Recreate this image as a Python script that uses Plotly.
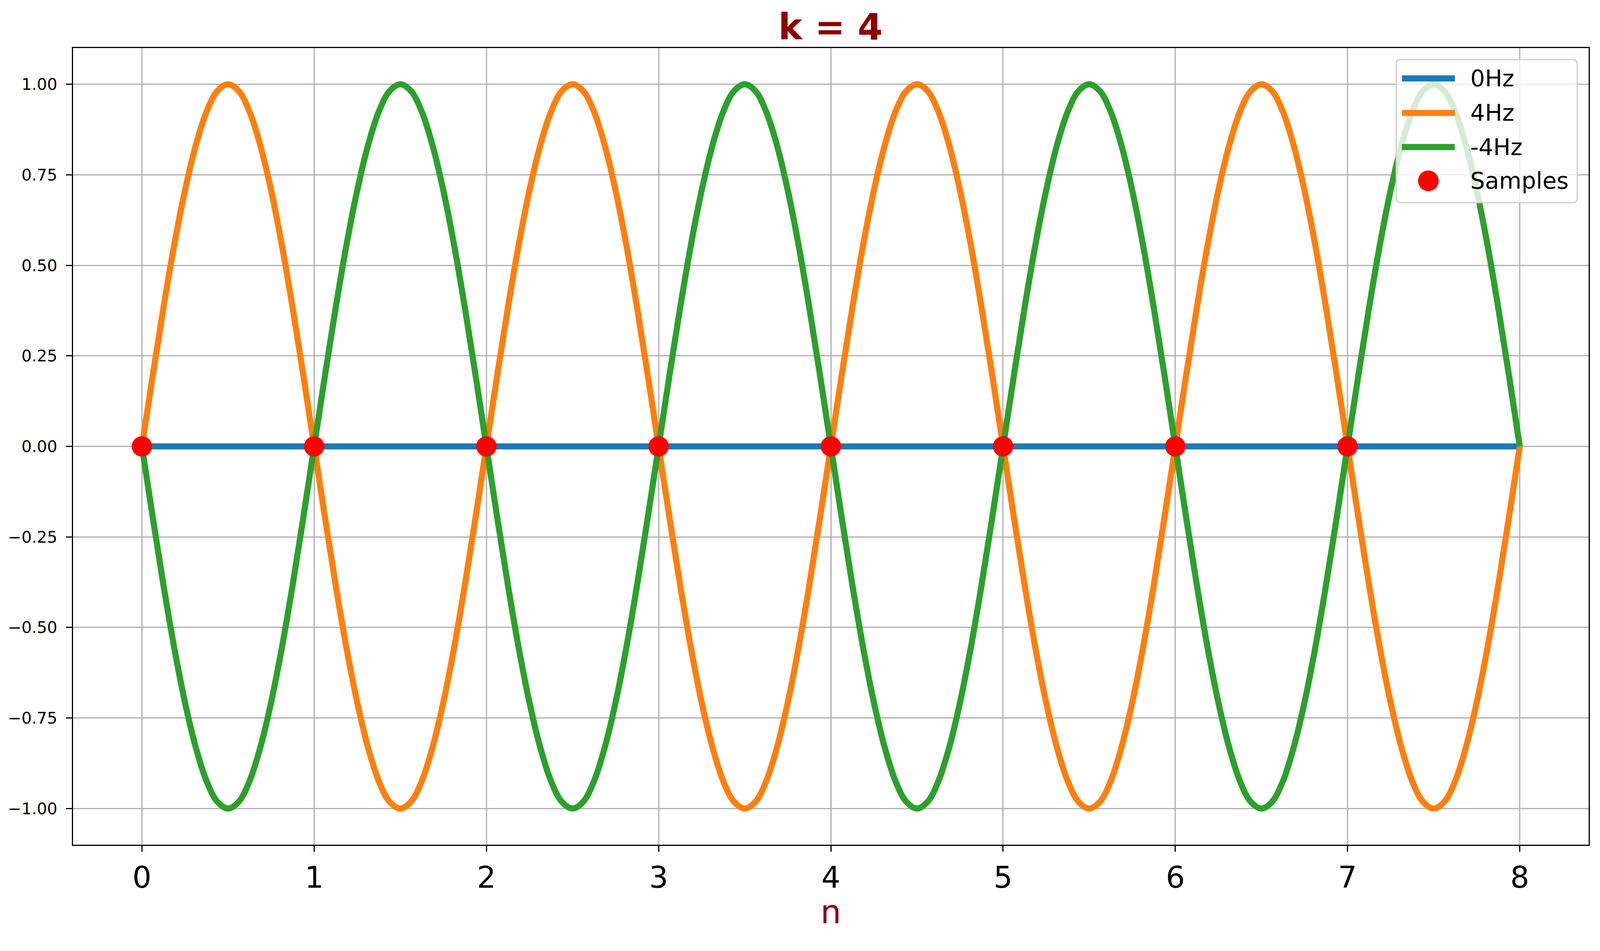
import plotly.graph_objects as go

# sampled points (n = 0..7)
sample_n = [0, 1, 2, 3, 4, 5, 6, 7]
sample_val = [0, 0, 0, 0, 0, 0, 0, 0]

curve_n = [i / 16 for i in range(129)]
zero_hz = [0.0] * 129
period_pos = [0, .195, .383, .556, .707, .831, .924, .981, 1, .981, .924, .831, .707, .556, .383, .195,
              0, -.195, -.383, -.556, -.707, -.831, -.924, -.981, -1, -.981, -.924, -.831, -.707, -.556, -.383, -.195]
period_neg = [0, -.195, -.383, -.556, -.707, -.831, -.924, -.981, -1, -.981, -.924, -.831, -.707, -.556, -.383, -.195,
              0, .195, .383, .556, .707, .831, .924, .981, 1, .981, .924, .831, .707, .556, .383, .195]
pos_4hz = period_pos * 4 + [0]
neg_4hz = period_neg * 4 + [0]

y_ticks = [-1.0, -0.75, -0.5, -0.25, 0.0, 0.25, 0.5, 0.75, 1.0]
y_labels = ["\u22121.00", "\u22120.75", "\u22120.50", "\u22120.25", "0.00", "0.25", "0.50", "0.75", "1.00"]
x_ticks = [0, 1, 2, 3, 4, 5, 6, 7, 8]

names = ["0Hz", "4Hz", "-4Hz", "Samples"]
colors = ["#1f77b4", "#ff7f0e", "#2ca02c", "red"]

font = "DejaVu Sans"

# the page seems to be rendered ~4096px wide and scaled up to 4169,
# so lay everything out in reference pixels and convert
S = 4096 / 4169


def fp(p):
    # reference pixel -> figure pixel (body margin is 8px)
    return p * S - 8


def sz(v):
    return v * S


W, H = 4080, 2375
L = fp(187)
R = W - fp(4139)
T = fp(125)
B = H - fp(2201)
PW, PH = W - L - R, H - T - B


def px(p):
    return (fp(p) - L) / PW


def py(p):
    return (H - B - fp(p)) / PH


lw = sz(16)

fig = go.Figure()
fig.add_trace(go.Scatter(x=curve_n, y=zero_hz, mode="lines", name=names[0],
                         line=dict(color=colors[0], width=lw)))
fig.add_trace(go.Scatter(x=curve_n, y=pos_4hz, mode="lines", name=names[1],
                         line=dict(color=colors[1], width=lw, shape="spline")))
fig.add_trace(go.Scatter(x=curve_n, y=neg_4hz, mode="lines", name=names[2],
                         line=dict(color=colors[2], width=lw, shape="spline")))
fig.add_trace(go.Scatter(x=sample_n, y=sample_val, mode="markers", name=names[3],
                         marker=dict(color=colors[3], size=sz(53))))

# legend drawn by hand, plotly caps legend symbol sizes
bx0, bx1, by0, by1, rad = 3637, 4109, 155, 528, 12
x0, x1 = px(bx0), px(bx1)
y0, y1 = py(by1), py(by0)
rx, ry = sz(rad) / PW, sz(rad) / PH
box = (f"M{x0 + rx},{y0} L{x1 - rx},{y0} Q{x1},{y0} {x1},{y0 + ry} L{x1},{y1 - ry} "
       f"Q{x1},{y1} {x1 - rx},{y1} L{x0 + rx},{y1} Q{x0},{y1} {x0},{y1 - ry} "
       f"L{x0},{y0 + ry} Q{x0},{y0} {x0 + rx},{y0} Z")
shapes = [dict(type="path", xref="paper", yref="paper", path=box,
               fillcolor="rgba(255,255,255,0.8)", line=dict(color="#cccccc", width=sz(3)))]
rows = [204, 294, 383, 471]
annotations = []
for i, (nm, c, row) in enumerate(zip(names, colors, rows)):
    if i < 3:
        shapes.append(dict(type="line", xref="paper", yref="paper",
                           x0=px(3652), x1=px(3790), y0=py(row), y1=py(row),
                           line=dict(color=c, width=lw)))
    else:
        shapes.append(dict(type="circle", xref="paper", yref="paper",
                           x0=px(3721 - 27), x1=px(3721 + 27),
                           y0=py(row + 27), y1=py(row - 27),
                           fillcolor=c, line=dict(width=0)))
    annotations.append(dict(text=nm, xref="paper", yref="paper", x=px(3828), y=py(row),
                            xanchor="left", yanchor="middle", showarrow=False,
                            font=dict(size=sz(60), color="black")))

fig.update_layout(
    width=W, height=H,
    margin=dict(l=L, r=R, t=T, b=B),
    paper_bgcolor="white", plot_bgcolor="white",
    font=dict(family=font, color="black"),
    showlegend=False,
    title=dict(text="<b>k = 4</b>", x=fp(2164) / W, xanchor="center",
               yref="container", y=1 - fp(70) / H, yanchor="middle",
               font=dict(size=sz(94), color="#8b0000")),
    shapes=shapes, annotations=annotations,
)
fig.update_xaxes(range=[-0.4, 8.4], tickvals=x_ticks, tickfont=dict(size=sz(78)),
                 showgrid=True, gridcolor="#b0b0b0", gridwidth=sz(3), zeroline=False,
                 showline=True, linecolor="black", linewidth=sz(3.5), mirror=True,
                 ticks="outside", ticklen=sz(15), tickwidth=sz(3.5), tickcolor="black",
                 title=dict(text="n", font=dict(size=sz(85), color="#8b0000"), standoff=sz(10)))
fig.update_yaxes(range=[-1.1, 1.1], tickvals=y_ticks, ticktext=y_labels, tickfont=dict(size=sz(42)),
                 showgrid=True, gridcolor="#b0b0b0", gridwidth=sz(3), zeroline=False,
                 showline=True, linecolor="black", linewidth=sz(3.5), mirror=True,
                 ticks="outside", ticklen=sz(15), tickwidth=sz(3.5), tickcolor="black",
                 ticklabelstandoff=14)

fig.write_html("out.html")
